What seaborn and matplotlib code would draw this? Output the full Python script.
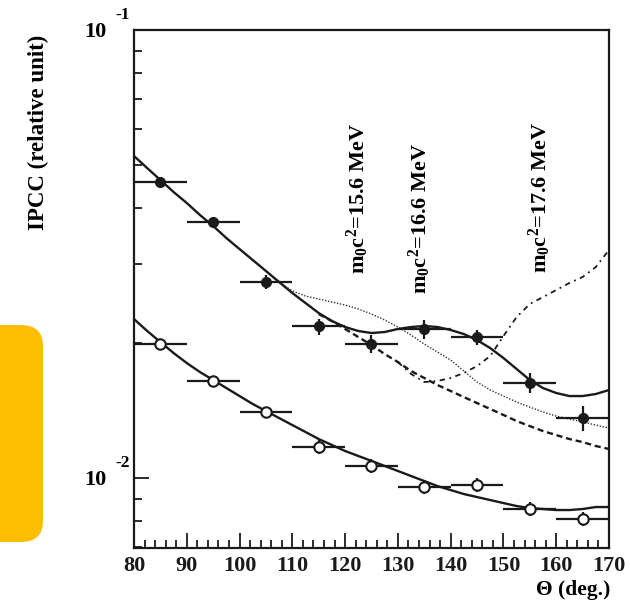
import numpy as np
import pandas as pd
import matplotlib
matplotlib.use("Agg")
import matplotlib.pyplot as plt
import matplotlib.ticker as ticker
from matplotlib.patches import FancyBboxPatch
import seaborn as sns

# --- data ---
theta = [85, 95, 105, 115, 125, 135, 145, 155, 165]
theta_err = [5] * 9

# filled points (upper set)
ipcc_full = [0.0458, 0.0373, 0.0274, 0.0218, 0.0199, 0.0215, 0.02065, 0.0163, 0.0136]
ipcc_full_err = [0.0009, 0.0010, 0.0010, 0.0009, 0.00093, 0.00107, 0.0008, 0.00085, 0.00086]

# open points (lower set)
ipcc_open = [0.0199, 0.01649, 0.01406, 0.01174, 0.01065, 0.00956, 0.00966, 0.00854, 0.00811]
ipcc_open_err = [0.0005, 0.00043, 0.00037, 0.00043, 0.0004, 0.00035, 0.00035, 0.0003, 0.0003]

# curves, sampled every 2.5 deg
fit_x = np.arange(80, 170.1, 2.5)
fit_y = [0.05233, 0.04918, 0.04626, 0.04349, 0.04110, 0.03864, 0.03652, 0.03433, 0.03244, 0.03066,
         0.02898, 0.02738, 0.02588, 0.02458, 0.02335, 0.02241, 0.02173, 0.02129, 0.02107, 0.02118,
         0.02151, 0.02173, 0.02184, 0.02173, 0.02140, 0.02096, 0.02032, 0.01950, 0.01853, 0.01751,
         0.01655, 0.01588, 0.01548, 0.01524, 0.01524, 0.01540, 0.01572]

# m0c2 = 15.6 MeV (fine dots)
m156_x = np.arange(105, 170.1, 2.5)
m156_y = [0.02898, 0.02738, 0.02615, 0.02548, 0.02509, 0.02471, 0.02433, 0.02384, 0.02323, 0.02253,
          0.02173, 0.02085, 0.01991, 0.01911, 0.01834, 0.01733, 0.01638, 0.01572, 0.01524, 0.01478,
          0.01440, 0.01404, 0.01375, 0.01354, 0.01334, 0.01313, 0.01293]

# no-boson background (dashed)
bg_x = np.arange(115, 170.1, 2.5)
bg_y = [0.02323, 0.02241, 0.02151, 0.02064, 0.01981, 0.01891, 0.01815, 0.01733, 0.01672, 0.01613,
        0.01564, 0.01516, 0.01470, 0.01426, 0.01383, 0.01340, 0.01306, 0.01273, 0.01247, 0.01222,
        0.01203, 0.01179, 0.01161]

# m0c2 = 17.6 MeV (dash-dot)
m176_x = np.arange(130, 170.1, 2.5)
m176_y = [0.01815, 0.01707, 0.01638, 0.01647, 0.01672, 0.01716, 0.01778, 0.01872, 0.02074, 0.02288,
          0.02446, 0.02535, 0.02628, 0.02725, 0.02810, 0.02958, 0.03228]

# fit through open points (solid)
open_fit_x = np.arange(80, 170.1, 2.5)
open_fit_y = [0.02264, 0.02129, 0.02012, 0.01901, 0.01806, 0.01724, 0.01655, 0.01588, 0.01524, 0.01463,
              0.01411, 0.01361, 0.01313, 0.01267, 0.01222, 0.01185, 0.01149, 0.01120, 0.01092, 0.01064,
              0.01037, 0.010103, 0.009847, 0.009597, 0.009402, 0.009211, 0.009069, 0.008930, 0.008794,
              0.008660, 0.008572, 0.008528, 0.008484, 0.008484, 0.008528, 0.008616, 0.008616]

mass_labels = [r"m$_0$c$^2$=15.6 MeV", r"m$_0$c$^2$=16.6 MeV", r"m$_0$c$^2$=17.6 MeV"]

sns.set_theme(style="ticks")
plt.rcParams["font.family"] = ["Liberation Serif", "DejaVu Serif"]
plt.rcParams["font.weight"] = "bold"
plt.rcParams["text.color"] = "black"
plt.rcParams["xtick.color"] = "black"
plt.rcParams["ytick.color"] = "black"
plt.rcParams["xtick.labelcolor"] = "black"
plt.rcParams["mathtext.fontset"] = "custom"
plt.rcParams["mathtext.rm"] = "Liberation Serif:bold"
plt.rcParams["mathtext.it"] = "Liberation Serif:bold:italic"
plt.rcParams["mathtext.bf"] = "Liberation Serif:bold"

W, H = 630, 602
fig = plt.figure(figsize=(W / 100, H / 100), dpi=100)
ax = fig.add_axes([134 / W, 1 - 548 / H, (609 - 134) / W, (548 - 30) / H])

def fx(px):
    return px / W

def fy(py):
    return 1 - py / H

# yellow side tab
fig.patches.append(FancyBboxPatch((fx(-30), fy(542)), fx(73), (542 - 325) / H,
                                  boxstyle="round,pad=0,rounding_size=0.035",
                                  transform=fig.transFigure, facecolor="#FDBD00",
                                  edgecolor="none", zorder=0))

k = "k"
sns.lineplot(x=fit_x, y=fit_y, ax=ax, color=k, lw=1.7, zorder=3)
sns.lineplot(x=m156_x, y=m156_y, ax=ax, color="#333333", lw=1.0, linestyle=(0, (1, 1.2)), zorder=2)
sns.lineplot(x=bg_x, y=bg_y, ax=ax, color=k, lw=1.7, linestyle=(0, (2.6, 1.6)), zorder=2)
sns.lineplot(x=m176_x, y=m176_y, ax=ax, color=k, lw=1.3, linestyle=(0, (3, 2.5, 1, 2.5)), zorder=2)
sns.lineplot(x=open_fit_x, y=open_fit_y, ax=ax, color=k, lw=1.7, zorder=3)

ax.errorbar(theta, ipcc_full, xerr=theta_err, yerr=ipcc_full_err, fmt="o", color=k,
            ms=7, elinewidth=1.6, capsize=0, zorder=4)
ax.errorbar(theta, ipcc_open, xerr=theta_err, yerr=ipcc_open_err, fmt="o", color=k,
            mfc="white", mec=k, mew=1.5, ms=7.5, elinewidth=1.6, capsize=0, zorder=4)

ax.set_yscale("log")
ax.set_xlim(80, 170)
ax.set_ylim(0.00698, 0.1)
ax.xaxis.set_major_locator(ticker.MultipleLocator(10))
ax.xaxis.set_minor_locator(ticker.MultipleLocator(2))
ax.yaxis.set_major_locator(ticker.FixedLocator([0.01, 0.1]))
ax.yaxis.set_minor_locator(ticker.LogLocator(base=10, subs=np.arange(2, 10)))
ax.yaxis.set_major_formatter(ticker.NullFormatter())
ax.yaxis.set_minor_formatter(ticker.NullFormatter())
ax.tick_params(which="both", direction="in", top=False, right=False, width=1.3, color=k)
ax.tick_params(which="major", length=11)
ax.tick_params(which="minor", length=6)
ax.tick_params(axis="x", which="major", labelsize=16, pad=6, labelcolor=k)
for lab in ax.get_xticklabels():
    lab.set_fontweight("bold")
for sp in ax.spines.values():
    sp.set_visible(True)
    sp.set_linewidth(1.6)
    sp.set_color(k)
ax.set_xlabel("")
ax.set_ylabel("")

# y tick labels in "10  -n" style
for py, exp in [(30, "-1"), (478, "-2")]:
    fig.text(fx(95), fy(py + 2), "10", fontsize=16, fontweight="bold", ha="center", va="center")
    fig.text(fx(123), fy(py - 15), exp, fontsize=12.5, fontweight="bold", ha="center", va="center")

fig.text(fx(38), fy(132), "IPCC (relative unit)", rotation=90, fontsize=16.5,
         fontweight="bold", ha="center", va="center")
fig.text(fx(610), fy(590), "\u0398 (deg.)", fontsize=15.5, fontweight="bold", ha="right", va="center")

for (px, ptop), lab in zip([(358, 123), (420, 143), (540, 122)], mass_labels):
    fig.text(fx(px), fy(ptop), lab, rotation=90, fontsize=16, fontweight="bold",
             ha="center", va="top")

fig.savefig("out.png", dpi=100)
